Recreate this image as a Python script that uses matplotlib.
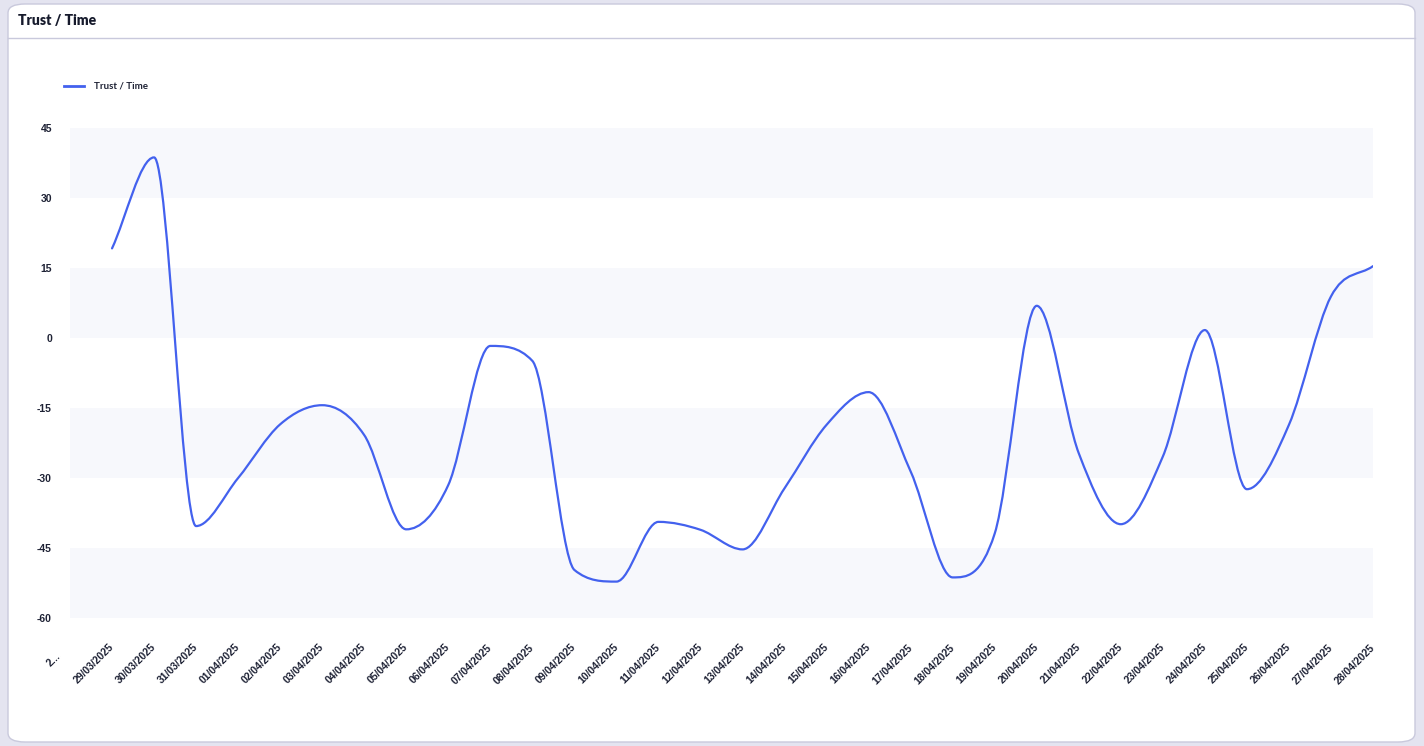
import os
import numpy as np
import matplotlib
matplotlib.use("Agg")
import matplotlib.pyplot as plt
import matplotlib.transforms as mtransforms
from matplotlib.patches import FancyBboxPatch, Rectangle, PathPatch
from matplotlib.path import Path
from matplotlib.lines import Line2D
from matplotlib import font_manager

plt.rcParams['font.family'] = ['Lato', 'DejaVu Sans']

# data
labels = ["2..."] + ["%02d/03/2025" % d for d in (29, 30, 31)] + ["%02d/04/2025" % d for d in range(1, 29)]
values = [None, 19.2, 38.7, -40.3, -30.0, -18.5, -14.4, -20.8, -41.0, -31.5,
          -1.7, -4.9, -49.7, -52.2, -39.4, -41.1, -45.3, -32.2, -18.6, -11.6,
          -28.6, -51.3, -41.9, 6.9, -24.7, -39.9, -25.4, 1.7, -32.4, -18.6,
          8.9, 15.4]
yticks = [45, 30, 15, 0, -15, -30, -45, -60]
series_name = "Trust / Time"

W, H = 1424, 746
fig = plt.figure(figsize=(W / 100, H / 100), dpi=100)
fig.patch.set_facecolor('#e4e4f0')

def fx(x):
    return x / W

def fy(y):
    return 1 - y / H

# card
card = FancyBboxPatch((fx(8), fy(742)), fx(1415) - fx(8), fy(4) - fy(742),
                      boxstyle="round,pad=0,rounding_size=0.012",
                      transform=fig.transFigure, facecolor='white',
                      edgecolor='#c9c9dc', linewidth=1, zorder=-5)
fig.patches.append(card)
fig.add_artist(Line2D([fx(8), fx(1415)], [fy(38), fy(38)], color='#c9c9dc', lw=1, zorder=-4))
fig.text(fx(18), fy(21), "Trust / Time", fontsize=10, fontweight='heavy',
         color='#161a2c', va='center', ha='left')

# legend
lc = '#4361ee'
fig.add_artist(Line2D([fx(64), fx(84)], [fy(86), fy(86)], color=lc, lw=2))
fig.text(fx(94), fy(86), series_name, fontsize=7, fontweight='bold',
         color='#1e2235', va='center', ha='left')

x0, x1, ytop, ybot = 70, 1373, 128, 618
ax = fig.add_axes([fx(x0), fy(ybot), fx(x1) - fx(x0), fy(ytop) - fy(ybot)])
ax.set_xlim(0, len(labels) - 1)
ax.set_ylim(-60, 45)
ax.patch.set_alpha(0)
for s in ax.spines.values():
    s.set_visible(False)

# alternating bands
for i in range(len(yticks) - 1):
    if i % 2 == 0:
        ax.add_patch(Rectangle((0, yticks[i + 1]), len(labels) - 1, yticks[i] - yticks[i + 1],
                               facecolor='#f7f8fc', edgecolor='none', zorder=0))

# monotone cubic curve (same way chart.js does cubicInterpolationMode 'monotone')
xs = np.array([i for i, v in enumerate(values) if v is not None], dtype=float)
ys = np.array([v for v in values if v is not None], dtype=float)
n = len(xs)
dk = np.diff(ys) / np.diff(xs)
mk = np.zeros(n)
mk[0] = dk[0]
mk[-1] = dk[-1]
for i in range(1, n - 1):
    if np.sign(dk[i - 1]) != np.sign(dk[i]):
        mk[i] = 0
    else:
        mk[i] = (dk[i - 1] + dk[i]) / 2
for i in range(n - 1):
    if abs(dk[i]) < 1e-9:
        mk[i] = mk[i + 1] = 0
        continue
    a = mk[i] / dk[i]
    b = mk[i + 1] / dk[i]
    sq = a * a + b * b
    if sq <= 9:
        continue
    tau = 3 / np.sqrt(sq)
    mk[i] = a * tau * dk[i]
    mk[i + 1] = b * tau * dk[i]
verts = [(xs[0], ys[0])]
codes = [Path.MOVETO]
for i in range(n - 1):
    dx = (xs[i + 1] - xs[i]) / 3
    verts += [(xs[i] + dx, ys[i] + dx * mk[i]),
              (xs[i + 1] - dx, ys[i + 1] - dx * mk[i + 1]),
              (xs[i + 1], ys[i + 1])]
    codes += [Path.CURVE4] * 3
ax.add_patch(PathPatch(Path(verts, codes), fill=False, edgecolor=lc, lw=1.6,
                       zorder=3, capstyle='round', joinstyle='round'))

# arial-like bold for the ticks (regular width file, not the narrow one)
tick_fp = font_manager.FontProperties(family=['Roboto', 'DejaVu Sans'], weight='bold', size=7.5)
for f in font_manager.fontManager.ttflist:
    if os.path.basename(f.fname) == 'LiberationSans-Bold.ttf':
        tick_fp = font_manager.FontProperties(fname=f.fname, size=7.5)
        break

ax.set_yticks(yticks)
ax.set_yticklabels([str(v) for v in yticks], fontproperties=tick_fp, color='#1e2235')
ax.set_xticks(range(len(labels)))
ax.set_xticklabels(labels, rotation=45, ha='right', va='center', rotation_mode='anchor',
                   fontproperties=tick_fp, color='#1e2235')
ax.tick_params(axis='y', length=0, pad=13)
ax.tick_params(axis='x', length=0, pad=20)

# the truncated first label sits a bit lower-left in the original
first = ax.get_xticklabels()[0]
first.set_transform(first.get_transform() +
                    mtransforms.ScaledTranslation(-11 / 100, -9 / 100, fig.dpi_scale_trans))

fig.savefig("out.png", dpi=100, facecolor=fig.get_facecolor())
